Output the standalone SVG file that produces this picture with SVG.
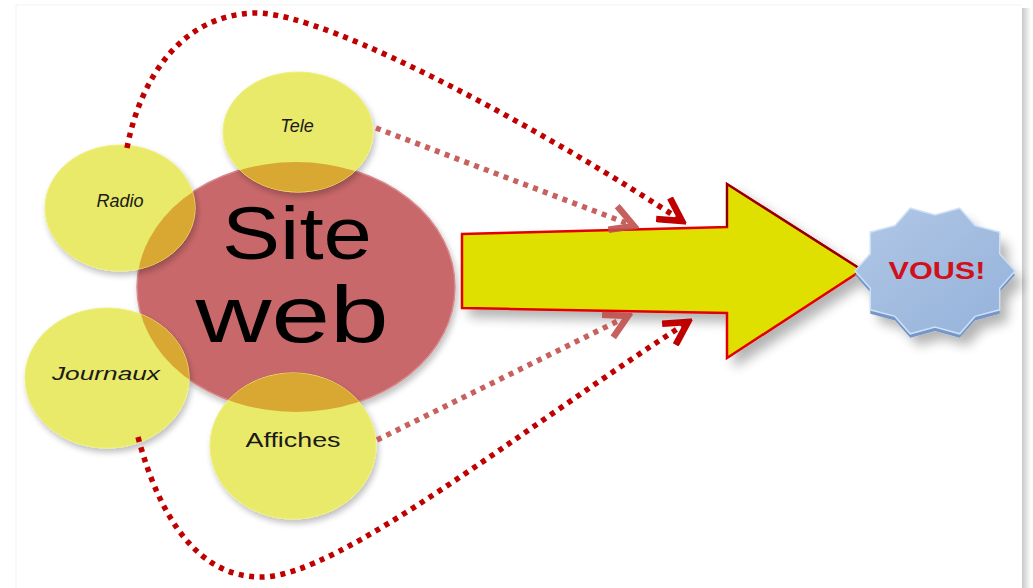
<svg xmlns="http://www.w3.org/2000/svg" width="1033" height="588" viewBox="0 0 1033 588">
  <defs>
    <style>
      .lbl { font-family: "Liberation Sans", Arial, sans-serif; fill: #1a1a1a; }
      .big { font-family: "Liberation Sans", Arial, sans-serif; fill: #000000; }
      .yel { fill: #e9e96a; stroke: #f0f07a; stroke-width: 1; }
      .ovl { fill: #d9a832; }
      .dot { fill: none; stroke: #c00000; stroke-width: 5.5; stroke-dasharray: 5 5.5; }
      .dotl { fill: none; stroke: #c0504d; stroke-width: 5.5; stroke-dasharray: 5 5.5; opacity: 0.9; }
    </style>
    <marker id="ahD" viewBox="0 0 12 12" refX="10" refY="6" markerWidth="5.5" markerHeight="5.5" orient="auto" markerUnits="strokeWidth">
      <path d="M1,1 L10,6 L1,11" fill="none" stroke="#c00000" stroke-width="2.6" stroke-linejoin="miter"/>
    </marker>
    <marker id="ahL" viewBox="0 0 12 12" refX="10" refY="6" markerWidth="5.5" markerHeight="5.5" orient="auto" markerUnits="strokeWidth">
      <path d="M1,1 L10,6 L1,11" fill="none" stroke="#c0504d" stroke-width="2.6" stroke-linejoin="miter"/>
    </marker>
    <filter id="sh" x="-20%" y="-20%" width="140%" height="150%">
      <feGaussianBlur in="SourceAlpha" stdDeviation="3"/>
      <feOffset dx="2" dy="4" result="b"/>
      <feComponentTransfer><feFuncA type="linear" slope="0.25"/></feComponentTransfer>
      <feMerge><feMergeNode/><feMergeNode in="SourceGraphic"/></feMerge>
    </filter>
    <filter id="sh2" x="-20%" y="-20%" width="150%" height="150%">
      <feGaussianBlur in="SourceAlpha" stdDeviation="6"/>
      <feOffset dx="8" dy="8" result="b"/>
      <feComponentTransfer><feFuncA type="linear" slope="0.3"/></feComponentTransfer>
      <feMerge><feMergeNode/><feMergeNode in="SourceGraphic"/></feMerge>
    </filter>
    <clipPath id="redclip">
      <ellipse cx="296" cy="287" rx="159" ry="125"/>
    </clipPath>
    <linearGradient id="starg" x1="0" y1="0" x2="1" y2="1">
      <stop offset="0" stop-color="#b0c7e6"/>
      <stop offset="1" stop-color="#95b2da"/>
    </linearGradient>
    <linearGradient id="pageR" x1="0" y1="0" x2="1" y2="0">
      <stop offset="0" stop-color="#c8c8c8"/>
      <stop offset="1" stop-color="#ffffff"/>
    </linearGradient>
  </defs>

  <rect width="1033" height="588" fill="#ffffff"/>
  <g id="page">
    <line x1="16" y1="5" x2="1022" y2="5" stroke="#f2f2f2" stroke-width="1"/>
    <line x1="16" y1="5" x2="16" y2="588" stroke="#f2f2f2" stroke-width="1"/>
    <rect x="1022" y="8" width="9" height="580" fill="url(#pageR)"/>
  </g>

  <g id="site-web">
    <ellipse cx="296" cy="287" rx="159" ry="125" fill="#c9676a" stroke="#d88a8c" stroke-width="1.5" filter="url(#sh)"/>
    <text class="big" x="297" y="259" font-size="74" text-anchor="middle" textLength="150" lengthAdjust="spacingAndGlyphs">Site</text>
    <text class="big" x="292" y="342" font-size="80" text-anchor="middle" textLength="193" lengthAdjust="spacingAndGlyphs">web</text>
  </g>

  <g id="radio">
    <ellipse class="yel" cx="120" cy="208" rx="75" ry="63" filter="url(#sh)"/>
    <ellipse class="ovl" cx="120" cy="208" rx="75" ry="63" clip-path="url(#redclip)"/>
    <text class="lbl" x="120" y="207" font-size="18" font-style="italic" text-anchor="middle">Radio</text>
  </g>

  <g id="tele">
    <ellipse class="yel" cx="298" cy="132" rx="75" ry="60" filter="url(#sh)"/>
    <ellipse class="ovl" cx="298" cy="132" rx="75" ry="60" clip-path="url(#redclip)"/>
    <text class="lbl" x="297" y="132" font-size="18" font-style="italic" text-anchor="middle">Tele</text>
  </g>

  <g id="journaux">
    <ellipse class="yel" cx="107" cy="378" rx="82" ry="70" filter="url(#sh)"/>
    <ellipse class="ovl" cx="107" cy="378" rx="82" ry="70" clip-path="url(#redclip)"/>
    <text class="lbl" x="106" y="380" font-size="18" font-style="italic" text-anchor="middle" textLength="108" lengthAdjust="spacingAndGlyphs">Journaux</text>
  </g>

  <g id="affiches">
    <ellipse class="yel" cx="293" cy="446" rx="83" ry="73" filter="url(#sh)"/>
    <ellipse class="ovl" cx="293" cy="446" rx="83" ry="73" clip-path="url(#redclip)"/>
    <text class="lbl" x="293" y="447" font-size="20" text-anchor="middle" textLength="95" lengthAdjust="spacingAndGlyphs">Affiches</text>
  </g>

  <g id="big-arrow">
    <polygon points="462,234 727,227 727,184 862,270 727,358 727,313 462,308" fill="#e0e000" stroke="#e00000" stroke-width="2.5" stroke-linejoin="miter" filter="url(#sh2)"/>
    <polyline points="727,227 727,184 862,270" fill="none" stroke="#8a0000" stroke-width="2"/>
  </g>

  <g id="vous">
    <polygon points="959.7,212.2 975,229.6 999.7,236.2 999.7,257.7 1015,275 999.7,292.3 999.7,313.8 975,320.4 959.7,337.8 935,331.1 910.3,337.8 895,320.4 870.3,313.8 870.3,292.3 855,275 870.3,257.7 870.3,236.2 895,229.6 910.3,212.2 935,218.9" fill="#7596c6" filter="url(#sh2)"/>
    <polygon points="959.7,208.2 975,225.6 999.7,232.2 999.7,253.7 1015,271 999.7,288.3 999.7,309.8 975,316.4 959.7,333.8 935,327.1 910.3,333.8 895,316.4 870.3,309.8 870.3,288.3 855,271 870.3,253.7 870.3,232.2 895,225.6 910.3,208.2 935,214.9" fill="url(#starg)" stroke="#cde0f6" stroke-width="1.5"/>
    <text x="937" y="279" font-family="'Liberation Sans', Arial, sans-serif" font-weight="bold" font-size="24" fill="#d0101a" text-anchor="middle" textLength="97" lengthAdjust="spacingAndGlyphs">VOUS!</text>
  </g>

  <g id="connectors">
    <path class="dot" d="M127,148 C140,80 180,15 255,13 C330,12 560,140 682,221" marker-end="url(#ahD)"/>
    <path class="dotl" d="M376,128 L634,226" marker-end="url(#ahL)"/>
    <path class="dotl" d="M377,440 L628,316" marker-end="url(#ahL)"/>
    <path class="dot" d="M138,437 C160,520 200,578 262,577 C340,576 520,430 688,322" marker-end="url(#ahD)"/>
  </g>
</svg>
